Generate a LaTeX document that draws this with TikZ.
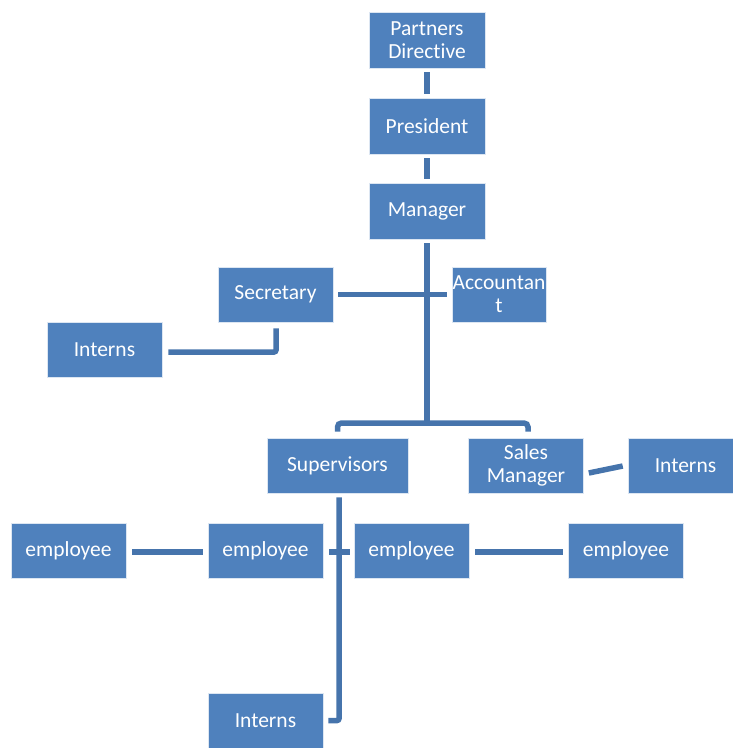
\documentclass[tikz,border=0pt]{standalone}
\usepackage{fontspec}
\setmainfont{Carlito}[Ligatures=NoCommon]
\usetikzlibrary{calc, positioning}

\definecolor{boxBlue}{RGB}{79,129,189}
\definecolor{lineBlue}{RGB}{70,116,172}

\begin{document}
\begin{tikzpicture}[x=1pt, y=-1pt,
    box/.style={fill=boxBlue, draw=white!80!boxBlue, line width=0.6pt, text=white,
        minimum width=115pt, minimum height=55pt, inner sep=0pt, align=center,
        font=\fontsize{21.5}{23}\selectfont},
    link/.style={draw=lineBlue, line width=5.5pt}]
    \def\gap{5}
    \def\empRow{550.5}
    \def\empCols{68.5, 265.5, 411.5, 626}

    \useasboundingbox (0, 0) rectangle (732, 748);

    % Draw top of the chart
    \node[box, minimum width=116pt, minimum height=56pt] (partners) at (427, 40) {Partners\\Directive};
    \node[box, minimum width=116pt, minimum height=56pt] (president) at (427, 126) {President};
    \node[box, minimum width=116pt, minimum height=56pt] (manager) at (427, 211) {Manager};

    % Draw staff boxes
    \node[box] (secretary) at (275.5, 294.5) {Secretary};
    \node[box, minimum width=94pt] (accountant) at (499, 294.5) {Accountan\\t};
    \node[box] (interns1) at (104.5, 350) {Interns};
    \node[box, minimum width=141pt] (supervisors) at (337.5, 465.5) {Supervisors};
    \node[box] (sales) at (526, 465.5) {Sales\\Manager};
    \node[box] (interns2) at (685.5, 465.5) {Interns};
    \node[box] (interns3) at (265.5, 720.5) {Interns};

    % Draw employee row
    \foreach[count=\i] \x in \empCols {
        \node[box] (emp\i) at (\x, \empRow) {employee};
    }

    \coordinate (bar) at (427, 423);

    % Draw connectors
    \draw[link] ($(partners.south)+(0, 4)$) -- ($(president.north)+(0, -4)$);
    \draw[link] ($(president.south)+(0, 4)$) -- ($(manager.north)+(0, -4)$);
    \draw[link] ($(manager.south)+(0, 4)$) -- (bar);
    \draw[link, rounded corners=4pt]
        ($(supervisors.north)+(0, -6)$)
        |- (bar)
        -| ($(sales.north)+(2, -6)$);
    \draw[link] ($(secretary.east)+(\gap, 0)$) -- ($(accountant.west)+(-\gap, 0)$);
    \draw[link, rounded corners=2pt]
        ($(secretary.south)+(0.5, 6)$)
        |- ($(interns1.east)+(6, 2)$);
    \draw[link] ($(sales.east)+(\gap, 7.5)$) -- ($(interns2.west)+(-\gap, 0.5)$);

    % Draw employee links
    \draw[link] ($(emp1.east)+(6, 1.5)$) -- ($(emp2.west)+(-\gap, 1.5)$);
    \draw[link] ($(emp2.east)+(6, 1.5)$) -- ($(emp3.west)+(-4, 1.5)$);
    \draw[link] ($(emp3.east)+(6, 1.5)$) -- ($(emp4.west)+(-\gap, 1.5)$);
    \draw[link, rounded corners=2pt]
        ($(supervisors.south)+(1.5, 4)$)
        |- ($(interns3.east)+(\gap, 0)$);
\end{tikzpicture}
\end{document}
